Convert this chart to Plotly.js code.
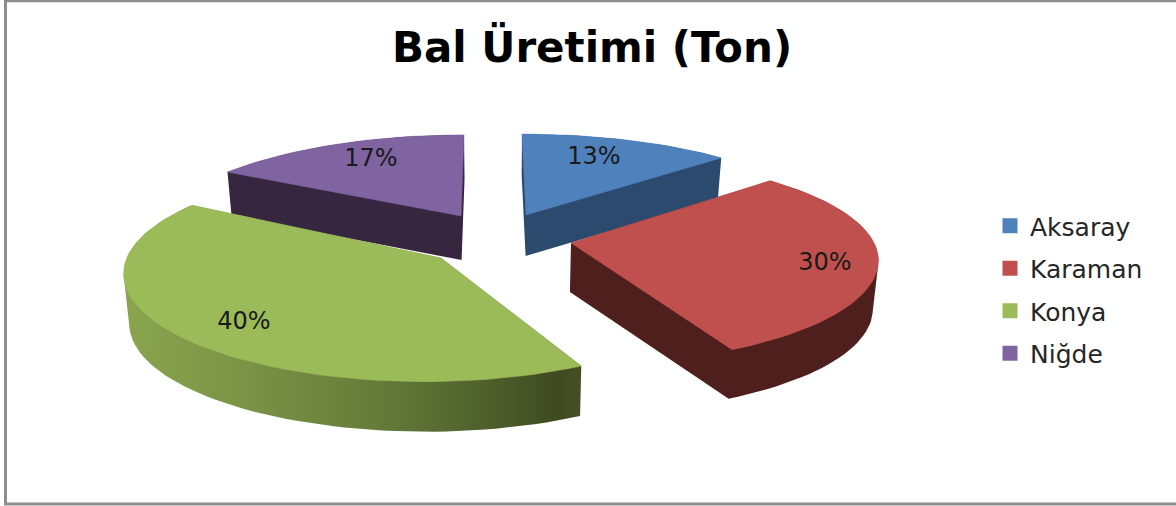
<!DOCTYPE html>
<html>
<head>
<meta charset="utf-8">
<script src="https://cdn.plot.ly/plotly-3.0.1.min.js"></script>
<style>html,body{margin:0;padding:0;background:#fff}#chart{width:1176px;height:506px}</style>
</head>
<body>
<div id="chart"></div>
<script>
const categories = ['Aksaray', 'Karaman', 'Konya', 'Niğde'];
const values = [13, 30, 40, 17];
const topColors = ['#4f81bd', '#c0504d', '#9bbb59', '#8064a2'];
const sideColors = ['#2c4a6e', '#4e1f1d', '#5a6a30', '#36263f'];
const chartTitle = 'Bal Üretimi (Ton)';

// Perspective projection of each exploded slice (styling of the fake 3D, not data)
const sliceViews = [
  {cx: 522, cy: 215, A: 292, B: 89, k: .10, apexX: 526, apexY: 215, depth: 41},
  {cx: 583, cy: 241, A: 290, B: 99.5, k: .19, apexX: 571, apexY: 243, depth: 49},
  {cx: 425, cy: 250, A: 294, B: 102.7, k: .22, apexX: 441, apexY: 258, depth: 50},
  {cx: 464, cy: 216, A: 305, B: 103, k: .27, apexX: 461, apexY: 216, depth: 44}
];
const labelSpots = [[594, 158], [825, 264], [244, 323], [371, 160]];
const vanishX = 500, shrink = 0.985;

const total = values.reduce((a, b) => a + b, 0);
function wedge(view, startFrac, frac) {
  const n = Math.max(8, Math.round(frac * 180)), pts = [[view.apexX, view.apexY]];
  for (let i = 0; i <= n; i++) {
    const t = 2 * Math.PI * (startFrac + frac * i / n);
    const r = 1 / (1 + view.k * Math.cos(t));
    pts.push([view.cx + view.A * Math.sin(t) * r, view.cy - view.B * Math.cos(t) * r]);
  }
  return pts;
}
function hull(points) {
  const p = points.slice().sort((a, b) => a[0] - b[0] || a[1] - b[1]);
  const cross = (o, a, b) => (a[0]-o[0])*(b[1]-o[1]) - (a[1]-o[1])*(b[0]-o[0]);
  const build = list => {
    const h = [];
    for (const q of list) {
      while (h.length >= 2 && cross(h[h.length-2], h[h.length-1], q) <= 0) h.pop();
      h.push(q);
    }
    h.pop();
    return h;
  };
  return build(p).concat(build(p.slice().reverse()));
}
const closeX = pts => pts.map(q => q[0]).concat(pts[0][0]);
const closeY = pts => pts.map(q => q[1]).concat(pts[0][1]);

let acc = 0;
const wedges = values.map((v, i) => {
  const w = wedge(sliceViews[i], acc / total, v / total);
  acc += v;
  return w;
});
const sideTrace = i => {
  const w = wedges[i], d = sliceViews[i].depth;
  const low = w.map(q => [vanishX + (q[0] - vanishX) * shrink, q[1] + d]);
  const h = hull(w.concat(low));
  const tr = {type: 'scatter', mode: 'lines', x: closeX(h), y: closeY(h), fill: 'toself',
    fillcolor: sideColors[i], line: {width: 0, color: sideColors[i]}, showlegend: false, hoverinfo: 'skip'};
  if (categories[i] === 'Konya') {
    tr.fillgradient = {type: 'horizontal', colorscale: [
      [0, '#8aa54e'], [0.25, '#7b9446'], [0.55, '#657c3a'], [0.8, '#4e5f2b'], [0.95, '#3f4a20'], [1, '#445024']]};
  }
  return tr;
};
const topTrace = i => ({type: 'scatter', mode: 'lines', x: closeX(wedges[i]), y: closeY(wedges[i]), fill: 'toself',
  fillcolor: topColors[i], line: {width: 0.5, color: topColors[i]}, showlegend: false,
  name: categories[i], text: values[i] + '%', hoverinfo: 'name+text'});

const drawOrder = [0, 3, 1, 2];
const traces = [];
drawOrder.forEach(i => { traces.push(sideTrace(i)); traces.push(topTrace(i)); });
traces.push({type: 'scatter', mode: 'text', x: labelSpots.map(s => s[0]), y: labelSpots.map(s => s[1]),
  text: values.map(v => v + '%'), textposition: 'middle center',
  textfont: {family: 'DejaVu Sans', size: 24, color: '#1a1a1a'}, showlegend: false, hoverinfo: 'skip'});
categories.forEach((c, i) => traces.push({type: 'scatter', mode: 'markers', x: [null], y: [null], name: c,
  legendgroup: c, marker: {color: topColors[i], size: 15, symbol: 'square'}}));

const layout = {
  width: 1176, height: 506, autosize: false,
  margin: {l: 0, r: 0, t: 0, b: 0, pad: 0},
  paper_bgcolor: '#fff', plot_bgcolor: '#fff',
  title: {text: '<b>' + chartTitle + '</b>', x: 592 / 1176, xanchor: 'center', y: 1 - 47 / 506, yanchor: 'middle',
    font: {family: 'DejaVu Sans', size: 42, color: '#000'}},
  xaxis: {range: [0, 1176], visible: false, fixedrange: true},
  yaxis: {range: [506, 0], visible: false, fixedrange: true},
  legend: {x: 996 / 1176, y: 1 - 203 / 506, xanchor: 'left', yanchor: 'top', bgcolor: 'rgba(0,0,0,0)',
    font: {family: 'DejaVu Sans', size: 25, color: '#262626'}, tracegroupgap: 7, indentation: -6, itemclick: false, itemdoubleclick: false},
  shapes: [
    {type: 'line', xref: 'x', yref: 'y', x0: 5.5, x1: 5.5, y0: 0, y1: 505, line: {color: '#8e8e8e', width: 3}},
    {type: 'line', xref: 'x', yref: 'y', x0: 4, x1: 1176, y0: 1, y1: 1, line: {color: '#8e8e8e', width: 2.5}},
    {type: 'line', xref: 'x', yref: 'y', x0: 4, x1: 1176, y0: 504, y1: 504, line: {color: '#8e8e8e', width: 3}}
  ]
};
Plotly.newPlot('chart', traces, layout, {displayModeBar: false, responsive: false});
</script>
</body>
</html>
